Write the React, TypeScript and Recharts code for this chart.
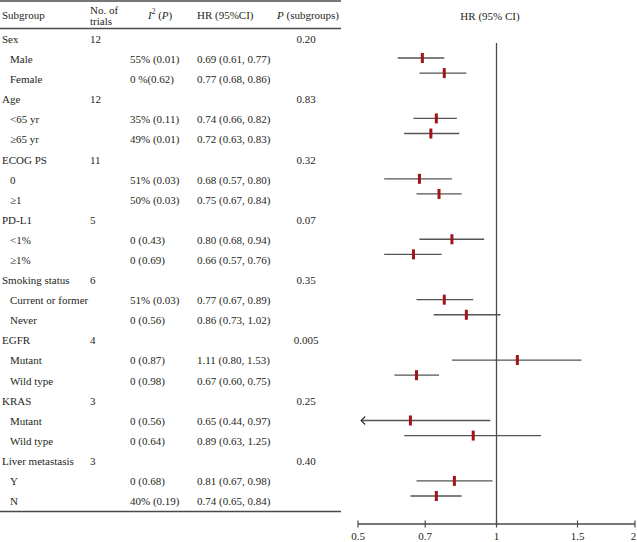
import React from "react";
import { ScatterChart, Scatter, XAxis, YAxis, ErrorBar, ReferenceLine } from "recharts";

const groupNames = ["Sex", "Age", "ECOG PS", "PD-L1", "Smoking status", "EGFR", "KRAS", "Liver metastasis"];
const groupTrials = ["12", "12", "11", "5", "6", "4", "3", "3"];
const groupP = ["0.20", "0.83", "0.32", "0.07", "0.35", "0.005", "0.25", "0.40"];

const itemNames = ["Male", "Female", "<65 yr", "≥65 yr", "0", "≥1", "<1%", "≥1%", "Current or former", "Never", "Mutant", "Wild type", "Mutant", "Wild type", "Y", "N"];
const itemI2 = ["55% (0.01)", "0 %(0.62)", "35% (0.11)", "49% (0.01)", "51% (0.03)", "50% (0.03)", "0 (0.43)", "0 (0.69)", "51% (0.03)", "0 (0.56)", "0 (0.87)", "0 (0.98)", "0 (0.56)", "0 (0.64)", "0 (0.68)", "40% (0.19)"];
const hrValues = [0.69, 0.77, 0.74, 0.72, 0.68, 0.75, 0.80, 0.66, 0.77, 0.86, 1.11, 0.67, 0.65, 0.89, 0.81, 0.74];
const lowerCI = [0.61, 0.68, 0.66, 0.63, 0.57, 0.67, 0.68, 0.57, 0.67, 0.73, 0.80, 0.60, 0.44, 0.63, 0.67, 0.65];
const upperCI = [0.77, 0.86, 0.82, 0.83, 0.80, 0.84, 0.94, 0.76, 0.89, 1.02, 1.53, 0.75, 0.97, 1.25, 0.98, 0.84];

const xTicks = [0.5, 0.7, 1, 1.5, 2];
const X_MIN = 0.5;
const X_MAX = 2;
const ARROW_AT = 0.508;

const FONT = "'Liberation Serif', 'DejaVu Serif', serif";
const TEXT = "#231f20";
const LINE = "#4a4a4a";

type Row = { label: string; sub: boolean; trials: string; i2: string; hr: string; p: string };
const rows: Row[] = [];
groupNames.forEach((g, gi) => {
  rows.push({ label: g, sub: false, trials: groupTrials[gi], i2: "", hr: "", p: groupP[gi] });
  for (let k = 0; k < 2; k++) {
    const j = gi * 2 + k;
    rows.push({
      label: itemNames[j],
      sub: true,
      trials: "",
      i2: itemI2[j],
      hr: `${hrValues[j].toFixed(2)} (${lowerCI[j].toFixed(2)}, ${upperCI[j].toFixed(2)})`,
      p: "",
    });
  }
});

const forestData = hrValues.map((hr, j) => {
  const lo = Math.max(lowerCI[j], ARROW_AT);
  return {
    hr,
    slot: Math.floor(j / 2) * 4 + (j % 2),
    err: [hr - lo, upperCI[j] - hr],
  };
});
const arrowData = hrValues
  .map((_, j) => ({ hr: ARROW_AT, slot: Math.floor(j / 2) * 4 + (j % 2), clipped: lowerCI[j] < X_MIN }))
  .filter((d) => d.clipped);

const Marker = (props: any) => {
  const { cx, cy } = props;
  if (cx == null || cy == null) return null;
  return <rect x={cx - 1.5} y={cy - 5} width={3} height={10} fill="#a0151a" />;
};
const NoShape = () => null;
const Arrow = (props: any) => {
  const { cx, cy } = props;
  if (cx == null || cy == null) return null;
  return <path d={`M${cx + 4} ${cy - 4} L${cx} ${cy} L${cx + 4} ${cy + 4}`} fill="none" stroke="#333" strokeWidth={1.2} />;
};
const Tick = (props: any) => {
  const { x, y, payload } = props;
  const tx = Math.min(x, 633.5);
  return (
    <g>
      <line x1={x} x2={x} y1={y - 3.5} y2={y + 3.5} stroke={LINE} strokeWidth={1.2} />
      <text x={tx} y={y + 15.5} textAnchor="middle" fontFamily={FONT} fontSize={11} fill={TEXT}>
        {payload.value}
      </text>
    </g>
  );
};

const ROW0 = 39;
const ROW_STEP = 20.09;

export default function App() {
  return (
    <div style={{ position: "absolute", left: 0, top: 0, width: 637, height: 542, background: "#fff" }}>
      <svg width={637} height={542} style={{ position: "absolute", left: 0, top: 0 }}>
        <g fontFamily={FONT} fontSize={11} fill={TEXT}>
          <line x1={0} x2={341} y1={1} y2={1} stroke={LINE} strokeWidth={1.3} />
          <line x1={0} x2={341} y1={28.5} y2={28.5} stroke={LINE} strokeWidth={1.3} />
          <line x1={0} x2={341} y1={511.5} y2={511.5} stroke={LINE} strokeWidth={1.3} />
          <text x={2} y={15} dominantBaseline="central">Subgroup</text>
          <text x={90} y={9.5} dominantBaseline="central">No. of</text>
          <text x={90} y={20.5} dominantBaseline="central">trials</text>
          <text x={148} y={15} dominantBaseline="central">
            <tspan fontStyle="italic">I</tspan>
            <tspan fontSize={7.5} dy={-4}>2</tspan>
            <tspan dy={4}> (</tspan>
            <tspan fontStyle="italic">P</tspan>
            <tspan>)</tspan>
          </text>
          <text x={197} y={15} dominantBaseline="central">HR (95%CI)</text>
          <text x={277} y={15} dominantBaseline="central">
            <tspan fontStyle="italic">P</tspan>
            <tspan> (subgroups)</tspan>
          </text>
          <text x={490} y={16} dominantBaseline="central" textAnchor="middle">HR (95% CI)</text>
          {rows.map((r, i) => {
            const y = ROW0 + i * ROW_STEP;
            return (
              <g key={i}>
                <text x={r.sub ? 10 : 2} y={y} dominantBaseline="central">{r.label}</text>
                {r.trials && <text x={90} y={y} dominantBaseline="central">{r.trials}</text>}
                {r.i2 && <text x={130} y={y} dominantBaseline="central">{r.i2}</text>}
                {r.hr && <text x={197} y={y} dominantBaseline="central">{r.hr}</text>}
                {r.p && <text x={306} y={y} dominantBaseline="central" textAnchor="middle">{r.p}</text>}
              </g>
            );
          })}
        </g>
      </svg>
      <div style={{ position: "absolute", left: 0, top: 0 }}>
        <ScatterChart width={637} height={542} margin={{ top: 43, right: 2, bottom: 0, left: 358 }}>
          <XAxis
            type="number"
            dataKey="hr"
            scale="log"
            domain={[X_MIN, X_MAX]}
            ticks={xTicks}
            allowDataOverflow
            height={18}
            tickSize={0}
            tickMargin={0}
            tickLine={false}
            axisLine={{ stroke: LINE, strokeWidth: 1.3 }}
            tick={<Tick />}
            interval={0}
          />
          <YAxis type="number" dataKey="slot" domain={[-0.993, 30.854]} reversed hide allowDataOverflow />
          <ReferenceLine x={1} stroke={LINE} strokeWidth={1.3} />
          <Scatter data={forestData} shape={<NoShape />} isAnimationActive={false}>
            <ErrorBar dataKey="err" direction="x" width={0} stroke="#555" strokeWidth={1.3} isAnimationActive={false} />
          </Scatter>
          <Scatter data={arrowData} shape={<Arrow />} isAnimationActive={false} />
          <Scatter data={forestData} shape={<Marker />} isAnimationActive={false} />
        </ScatterChart>
      </div>
    </div>
  );
}
